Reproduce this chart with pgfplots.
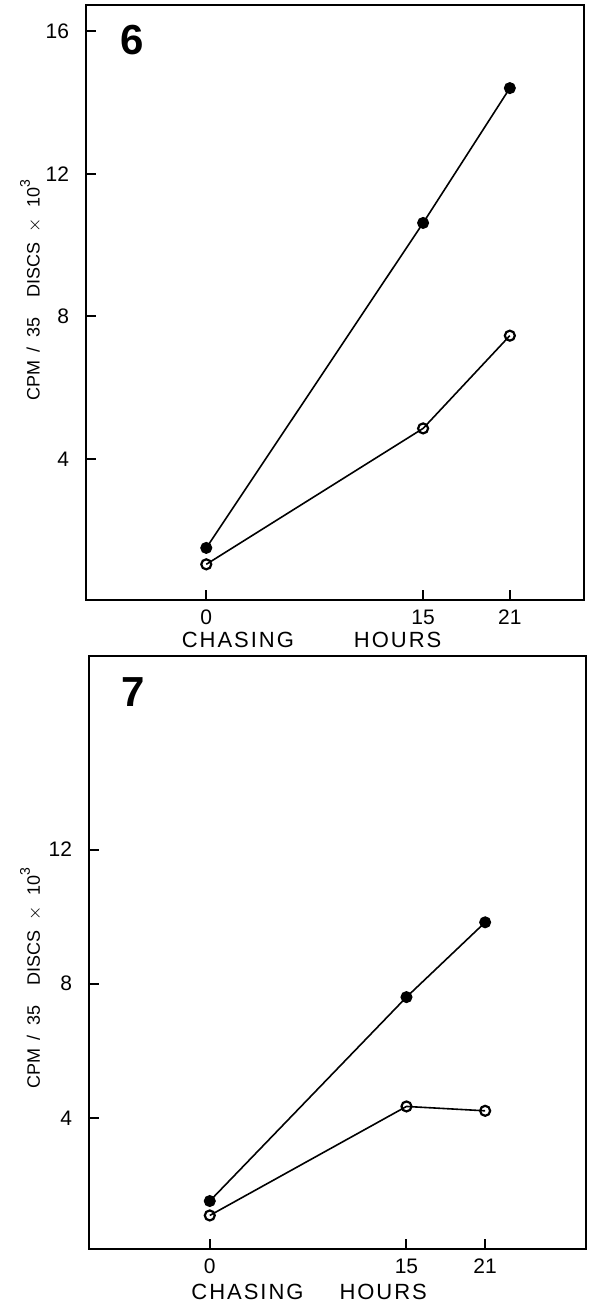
\documentclass[border=0pt]{standalone}
\usepackage{fontspec}
\setmainfont{Liberation Sans}
\newfontfamily\spacedfont[LetterSpace=9]{Liberation Sans}
\usepackage{pgfplots}
\pgfplotsset{compat=1.18}
\newcommand{\ylab}{CPM\hspace{4pt}/\hspace{5pt}35\hspace{10pt}DISCS\hspace{5pt}$\times$\hspace{5pt}10\raisebox{0.55em}{\fontsize{7}{8}\selectfont 3}}
\begin{document}
\begin{tikzpicture}
\useasboundingbox (0,0) rectangle (294.5pt,651pt);
\pgfplotsset{
 panel/.style={
  scale only axis,
  anchor=south west,
  axis line style={line width=1.1pt},
  tick align=inside,
  xtick pos=bottom, ytick pos=left,
  major tick length=5pt,
  every tick/.style={line width=1pt, black},
  xtick={0,15,21},
  tick label style={font=\fontsize{10.5}{12}\selectfont},
  /pgf/number format/assume math mode=true,
  yticklabel style={xshift=-5pt},
  xticklabel style={yshift=-1.5pt},
  xlabel style={font=\spacedfont\fontsize{11}{13}\selectfont, anchor=center},
  ylabel style={font=\fontsize{9}{11}\selectfont, anchor=center},
 },
 filled/.style={black, line width=0.8pt, mark=*, mark size=2.6pt, mark options={solid, fill=black}},
 open/.style={black, line width=0.8pt, mark=o, mark size=2.5pt, mark options={solid, line width=1.1pt, fill=white}},
}
% Panel 6
\begin{axis}[panel, at={(43pt,351pt)}, width=249pt, height=297.5pt,
  xmin=-8.32, xmax=26.13, ymin=0.05, ymax=16.73,
  ytick={4,8,12,16},
  xlabel={CHASING\hspace{30pt}HOURS},
  xlabel style={at={(axis description cs:0.453,-0.067)}},
  ylabel={\ylab},
  ylabel style={at={(axis description cs:-0.111,0.521)}},
]
\addplot[filled] coordinates {(0,1.51) (15,10.62) (21,14.40)};
\addplot[open] coordinates {(0,1.05) (15,4.86) (21,7.46)};
\node[font=\bfseries\fontsize{21}{23}\selectfont] at (axis description cs:0.093,0.941) {6};
\end{axis}
% Panel 7
\begin{axis}[panel, at={(44.5pt,26.5pt)}, width=248.5pt, height=296.5pt,
  xmin=-9.21, xmax=28.69, ymin=0.09, ymax=17.77,
  ytick={4,8,12},
  xlabel={CHASING\hspace{18pt}HOURS},
  xlabel style={at={(axis description cs:0.443,-0.072)}},
  ylabel={\ylab},
  ylabel style={at={(axis description cs:-0.117,0.457)}},
]
\addplot[filled] coordinates {(0,1.52) (15,7.60) (21,9.83)};
\addplot[open] coordinates {(0,1.09) (15,4.34) (21,4.21)};
\node[font=\bfseries\fontsize{21}{23}\selectfont] at (axis description cs:0.0895,0.940) {7};
\end{axis}
\end{tikzpicture}
\end{document}
